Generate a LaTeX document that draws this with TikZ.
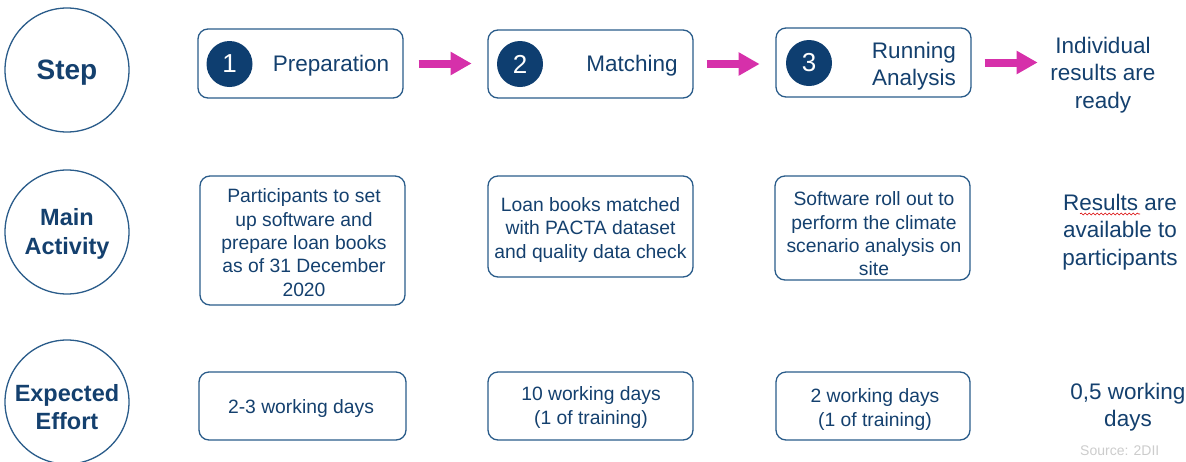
\documentclass[tikz,border=0pt]{standalone}
\usepackage{fontspec}
\setmainfont{Liberation Sans}
\usetikzlibrary{arrows.meta,decorations.pathmorphing}
\definecolor{navy}{RGB}{14,62,112}
\definecolor{txt}{RGB}{20,64,110}
\definecolor{edge}{RGB}{42,92,138}
\definecolor{mag}{RGB}{214,48,170}
\begin{document}
\begin{tikzpicture}[x=1pt,y=-1pt,
  rowlabel/.style={circle, draw=edge, line width=1.3pt, minimum size=124pt, inner sep=0pt,
    text=txt, align=center},
  rowtxt/.style={inner sep=0pt, text=txt, align=center, font=\fontsize{23.5}{28.5}\selectfont\bfseries},
  box/.style={draw=edge, line width=1.3pt, rounded corners=10pt, inner sep=0pt},
  num/.style={circle, fill=navy, minimum size=46pt, inner sep=0pt, text=white,
    font=\fontsize{26}{26}\selectfont},
  label/.style={text=txt, align=center, inner sep=0pt},
  steptxt/.style={label, font=\fontsize{22.5}{27}\selectfont},
  acttxt/.style={label, font=\fontsize{19.3}{23.3}\selectfont},
  efftxt/.style={label, font=\fontsize{19.3}{24}\selectfont},
  sidetxt/.style={label, font=\fontsize{22.5}{27.5}\selectfont},
  flow/.style={mag, line width=8pt, -{Triangle[length=21pt,width=22pt]}}
]
\useasboundingbox (0,0) rectangle (1186,461);
\clip (0,0) rectangle (1186,461);

% row labels
\node[rowlabel] (rStep) at (67,70) {};
\node[rowlabel] (rAct) at (67,232) {};
\node[rowlabel] (rEff) at (67,402) {};
\node[rowtxt, font=\fontsize{28}{30}\selectfont\bfseries] (lStep) at (67,73) {Step};
\node[rowtxt] (lAct) at (67,234) {Main\\Activity};
\node[rowtxt] (lEff) at (67,407) {Expected\\Effort};

% row 1: steps
\node[box, minimum width=205pt, minimum height=69pt] (s1) at (300.5,63.5) {};
\node[box, minimum width=205pt, minimum height=68pt] (s2) at (590.5,64) {};
\node[box, minimum width=195pt, minimum height=69pt] (s3) at (873.5,62.5) {};
\node[num] (n1) at (229.5,64) {1};
\node[num] (n2) at (520,64) {2};
\node[num] (n3) at (809,63) {3};
\node[steptxt] (t1) at (331,66) {Preparation};
\node[steptxt] (t2) at (632,66) {Matching};
\node[steptxt, align=right, anchor=east] (t3) at (956,66.5) {Running\\Analysis};
\node[sidetxt] (t4) at (1103,75) {Individual\\results are\\ready};

\draw[flow] ([xshift=15pt]s1.east) -- ++(53,0);
\draw[flow] ([xshift=13pt]s2.east) -- ++(53,0);
\draw[flow] ([xshift=13pt]s3.east) -- ++(53,0);

% row 2: main activity
\node[box, minimum width=205pt, minimum height=129pt] (a1) at (302.5,240.5) {};
\node[box, minimum width=205pt, minimum height=101pt] (a2) at (590.5,226.5) {};
\node[box, minimum width=195pt, minimum height=104pt] (a3) at (872.5,228) {};
\node[acttxt] (at1) at (304,242.5) {Participants to set\\up software and\\prepare loan books\\as of 31 December\\2020};
\node[acttxt] (at2) at (590.5,230) {Loan books matched\\with PACTA dataset\\and quality data check};
\node[acttxt] (at3) at (874,234) {Software roll out to\\perform the climate\\scenario analysis on\\site};
\node[sidetxt] (at4) at (1120,232) {Results are\\available to\\participants};
\coordinate (sq1) at (1080,214);
\coordinate (sq2) at (1140,214);
\draw[red!85!black, line width=0.6pt, decorate,
  decoration={snake, amplitude=1pt, segment length=4pt}] (sq1) -- (sq2);

% row 3: expected effort
\node[box, minimum width=207pt, minimum height=68pt] (e1) at (302.5,406) {};
\node[box, minimum width=205pt, minimum height=68pt] (e2) at (590.5,406) {};
\node[box, minimum width=194pt, minimum height=68pt] (e3) at (873,406) {};
\node[efftxt] (et1) at (301,409) {2-3 working days};
\node[efftxt] (et2) at (591,408) {10 working days\\(1 of training)};
\node[efftxt] (et3) at (875,410) {2 working days\\(1 of training)};
\node[sidetxt] (et4) at (1128,407) {0,5 working\\days};

% source
\node[anchor=north west, inner sep=0pt, text=gray!40, font=\fontsize{14}{14}\selectfont] (src) at (1080,446) {Source: 2DII};
\end{tikzpicture}
\end{document}
